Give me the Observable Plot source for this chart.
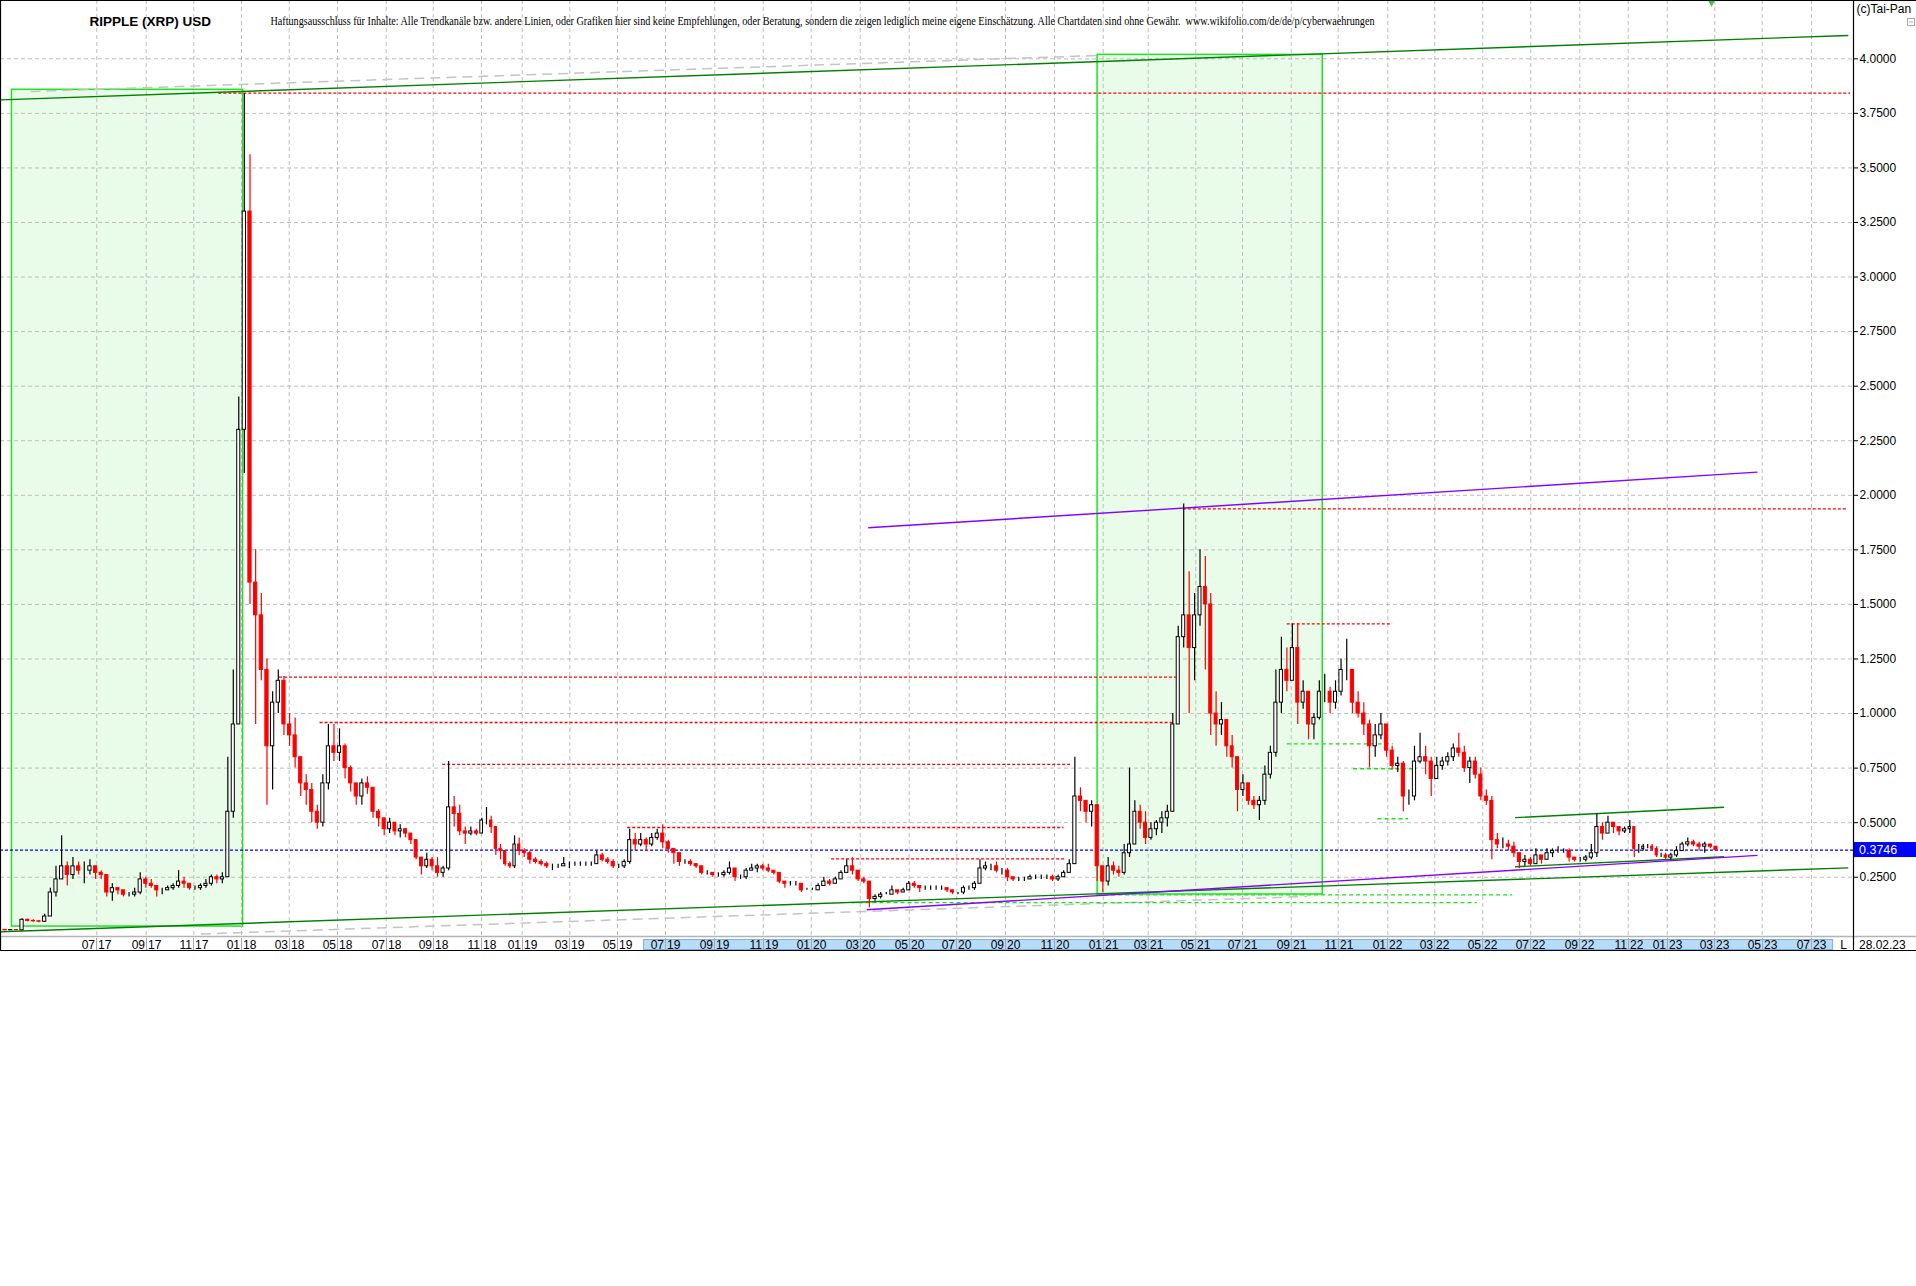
<!DOCTYPE html>
<html>
<head>
<meta charset="utf-8">
<script src="https://cdn.jsdelivr.net/npm/d3@7"></script>
<script src="https://cdn.jsdelivr.net/npm/@observablehq/plot@0.6"></script>
<style>
html, body { margin: 0; padding: 0; background: #fff; }
#chart { position: absolute; left: 0; top: 0; }
</style>
</head>
<body>
<div id="chart"></div>
<script>
// ---------------- DATA ----------------
const titleText = "RIPPLE (XRP) USD";
const disclaimer = "Haftungsausschluss für Inhalte: Alle Trendkanäle bzw. andere Linien, oder Grafiken hier sind keine Empfehlungen, oder Beratung, sondern die zeigen lediglich meine eigene Einschätzung. Alle Chartdaten sind ohne Gewähr.  www.wikifolio.com/de/de/p/cyberwaehrungen";
const copyright = "(c)Tai-Pan";
const lastDateLabel = "28.02.23";

// weekly candles (Monday starts), 2017-03-06 .. 2023-02-27
const firstOpen = 0.009;
const close = [
  // 2017
  .007,.008,.007,.055, .050,.048,.046,.070, .18,.24,.30,.26,.30, .28,.28,.30,.27, .26,.18,.20,.19,.17,
  .17,.18,.24,.22, .21,.19,.19,.20, .21,.23,.22,.20,.20, .21,.22,.25,.24, .25,.55,.95,2.30,
  // 2018
  3.30,1.60,1.45,1.20,0.85, 1.05,1.15,0.95,0.90, .80,.68,.65,.55, .50,.68,.85,.82,.85, .75,.68,.62,.68,
  .66,.55,.52,.47, .50,.46,.47,.45,.42, .34,.30,.33,.30, .27,.29,.57,.54, .46,.45,.46,.45,.51,
  .51,.48,.38,.37, .31,.30,.40,.37,.36,
  // 2019
  .33,.32,.31,.30, .30,.30,.31,.31, .31,.31,.31,.31, .35,.33,.32,.30,.30, .32,.42,.40,.42, .40,.43,.45,.41,
  .38,.36,.32,.32,.31, .30,.27,.27,.26, .26,.27,.29,.25,.25, .28,.29,.30,.29, .28,.27,.23,.22, .22,.22,.19,.19,.19,
  // 2020
  .21,.23,.22,.24, .27,.30,.28,.24, .23,.15,.16,.17,.17, .19,.18,.19,.22, .21,.20,.20,.20, .20,.20,.19,.18,.18,
  .20,.20,.22,.29, .30,.30,.28,.28,.25, .24,.24,.24,.25, .25,.25,.25,.24, .25,.27,.31,.62,.60, .55,.58,.30,.23,
  // 2021
  .30,.28,.27,.36, .40,.55,.50,.43, .47,.50,.52,.55,.95, 1.35,1.45,1.30,1.45, 1.58,1.50,1.00,.95,.97, .85,.80,.65,.68,
  .60,.58,.60,.72, .82,1.05,1.20,1.15,1.30, 1.05,1.10,.95,.98, 1.10,1.10,1.05,1.10, 1.20,1.20,1.05,1.00,.95, .85,.90,.95,.83,
  // 2022
  .76,.77,.62,.62,.78, .80,.78,.70,.76, .78,.80,.84,.82, .75,.78,.72,.62, .60,.42,.40,.40,.39, .36,.32,.33,.31,
  .35,.33,.36,.37, .37,.37,.34,.33,.33, .34,.36,.48,.45, .50,.48,.46,.47,.48, .38,.38,.39,.39, .38,.35,.35,.34,
  // 2023
  .35,.37,.40,.41,.40, .39,.40,.39,.3746
];
const high = [
  // 2017
  .009,.009,.009,.060, .058,.055,.052,.080, .20,.30,.44,.32,.34, .32,.32,.33,.30, .28,.26,.22,.20,.19,
  .18,.20,.27,.25, .24,.21,.20,.21, .22,.28,.25,.22,.21, .22,.24,.26,.26, .27,.80,1.20,2.45,
  // 2018
  3.84,3.56,1.75,1.55,1.25, 1.10,1.20,1.17,1.00, .98,.80,.72,.68, .58,.72,.95,.95,.93, .86,.76,.68,.70,
  .71,.66,.56,.52, .52,.50,.49,.47,.45, .42,.34,.36,.34, .34,.30,.78,.62, .58,.48,.48,.47,.52,
  .57,.53,.47,.40, .37,.32,.44,.43,.38,
  // 2019
  .37,.34,.33,.32, .31,.31,.34,.32, .32,.32,.32,.32, .37,.36,.34,.33,.31, .33,.47,.45,.45, .43,.45,.47,.49,
  .42,.38,.36,.33,.33, .31,.30,.28,.27, .27,.28,.32,.29,.26, .29,.31,.31,.31, .31,.28,.27,.23, .23,.23,.22,.20,.20,
  // 2020
  .22,.25,.24,.25, .28,.33,.34,.28, .25,.23,.17,.18,.18, .21,.19,.20,.23, .23,.21,.21,.21, .21,.21,.20,.19,.18,
  .21,.21,.23,.33, .32,.31,.32,.29,.29, .25,.25,.25,.26, .26,.26,.26,.26, .26,.28,.33,.80,.66, .60,.60,.58,.30,
  // 2021
  .34,.32,.30,.40, .75,.60,.58,.55, .50,.51,.55,.58,1.00, 1.40,1.96,1.65,1.55, 1.75,1.72,1.55,1.10,1.05, .95,.90,.80,.72,
  .68,.62,.62,.76, .85,1.20,1.35,1.30,1.41, 1.41,1.15,1.05,1.00, 1.15,1.18,1.12,1.15, 1.25,1.34,1.20,1.10,1.05, .97,.95,1.00,.95,
  // 2022
  .85,.80,.78,.65,.85, .91,.85,.80,.80, .80,.82,.86,.91, .85,.80,.80,.75, .65,.62,.45,.43,.42, .41,.36,.35,.34,
  .38,.35,.38,.38, .39,.38,.38,.34,.34, .35,.40,.54,.50, .53,.50,.48,.48,.51, .48,.40,.40,.40, .40,.39,.36,.36,
  // 2023
  .36,.39,.41,.43,.42, .41,.41,.40,.38
];
const low = [
  // 2017
  .005,.006,.006,.007, .045,.044,.042,.044, .07,.16,.24,.21,.24, .26,.22,.26,.24, .24,.16,.14,.17,.16,
  .16,.16,.17,.20, .20,.16,.17,.19, .19,.20,.20,.19,.19, .19,.20,.21,.22, .22,.25,.52,.95,
  // 2018
  2.10,1.50,0.95,1.15,0.58, 0.65,1.00,0.90,0.85, .75,.62,.58,.50, .47,.48,.65,.78,.78, .70,.64,.58,.58,
  .63,.52,.48,.44, .45,.44,.43,.43,.40, .33,.26,.29,.28, .25,.25,.28,.48, .44,.40,.44,.44,.45,
  .49,.45,.35,.33, .30,.29,.29,.35,.34,
  // 2019
  .31,.31,.30,.29, .28,.29,.30,.29, .30,.30,.30,.30, .31,.32,.31,.29,.29, .29,.31,.37,.39, .37,.39,.42,.38,
  .36,.31,.30,.31,.30, .29,.26,.26,.25, .25,.25,.26,.23,.24, .24,.28,.27,.28, .27,.26,.22,.20, .21,.21,.18,.19,.19,
  // 2020
  .19,.21,.21,.22, .24,.27,.26,.23, .22,.11,.14,.15,.17, .17,.17,.18,.19, .20,.18,.19,.19, .19,.19,.18,.17,.17,
  .17,.19,.19,.22, .28,.28,.27,.26,.23, .23,.23,.23,.24, .24,.24,.24,.23, .23,.25,.27,.33,.55, .50,.48,.23,.18,
  // 2021
  .21,.26,.25,.26, .34,.42,.47,.40, .42,.44,.45,.48,.55, .95,1.30,1.00,1.15, 1.40,1.20,.90,.85,.90, .80,.75,.55,.62,
  .58,.56,.51,.58, .70,.80,1.00,1.10,1.15, .95,1.02,.88,.88, .97,1.05,1.00,1.02, 1.08,1.15,1.00,.98,.90, .75,.80,.88,.80,
  // 2022
  .74,.73,.55,.58,.60, .77,.72,.62,.70, .74,.76,.78,.80, .73,.68,.70,.60, .58,.33,.38,.38,.37, .34,.29,.30,.30,
  .31,.31,.33,.34, .36,.36,.32,.32,.32, .32,.33,.34,.42, .45,.45,.44,.45,.45, .34,.36,.37,.38, .37,.34,.34,.33,
  // 2023
  .33,.34,.37,.39,.39, .37,.36,.38,.37
];
const lastPrice = 0.3746;

// price scale ticks
const yTicks = [0.25,0.5,0.75,1,1.25,1.5,1.75,2,2.25,2.5,2.75,3,3.25,3.5,3.75,4];

// month grid / date band labels
const gridMonths = [
  "2017-07-01","2017-09-01","2017-11-01","2018-01-01","2018-03-01","2018-05-01","2018-07-01","2018-09-01","2018-11-01",
  "2019-01-01","2019-03-01","2019-05-01","2019-07-01","2019-09-01","2019-11-01","2020-01-01","2020-03-01","2020-05-01",
  "2020-07-01","2020-09-01","2020-11-01","2021-01-01","2021-03-01","2021-05-01","2021-07-01","2021-09-01","2021-11-01",
  "2022-01-01","2022-03-01","2022-05-01","2022-07-01","2022-09-01","2022-11-01","2023-01-01","2023-03-01","2023-05-01","2023-07-01"
];

// shaded zones
const zoneStart = ["2017-03-18", "2020-12-25"];
const zoneEnd = ["2018-01-03", "2021-10-12"];
const zoneLow = [0.024, 0.171];
const zoneHigh = [3.858, 4.018];

// trend lines
const trendKind = ["green", "green", "gray", "gray", "purple", "purple", "green", "green"];
const trendFrom = ["2017-03-04", "2017-03-04", "2017-04-10", "2017-11-10", "2020-03-11", "2020-03-09", "2022-06-11", "2022-06-11"];
const trendTo = ["2023-08-17", "2023-08-17", "2020-12-25", "2021-09-22", "2023-04-25", "2023-04-25", "2023-03-13", "2023-03-13"];
const trendFromValue = [3.812, 0.000, 3.850, -0.010, 1.851, 0.101, 0.523, 0.298];
const trendToValue = [4.107, 0.293, 4.015, 0.162, 2.106, 0.350, 0.571, 0.344];

// red dashed resistance levels
const redLevel = [3.843, 1.938, 1.167, 0.959, 0.767, 0.478, 0.334, 1.411];
const redFrom = ["2017-12-03", "2021-04-15", "2018-02-17", "2018-04-09", "2018-09-13", "2019-05-14", "2020-01-26", "2021-08-27"];
const redTo = ["2023-08-20", "2023-08-17", "2021-04-06", "2021-04-01", "2020-11-21", "2020-11-13", "2020-11-16", "2022-01-07"];

// green dashed support levels
const greenLevel = [0.169, 0.134, 0.861, 0.747, 0.518];
const greenFrom = ["2020-12-25", "2020-02-20", "2021-08-27", "2021-11-20", "2021-12-20"];
const greenTo = ["2022-06-08", "2022-04-24", "2022-01-08", "2022-02-05", "2022-01-27"];

// date band highlighted range, last-data marker
const bandRange = ["2019-06-03", "2023-07-28"];
const markerDate = "2023-02-25";

// ---------------- BUILD ----------------
const D = s => new Date(s + "T00:00:00Z");
const weeks = d3.utcMonday.range(D("2017-03-06"), D("2023-03-01"));
if (weeks.length !== close.length || close.length !== high.length || high.length !== low.length) {
  document.body.insertAdjacentHTML("beforeend", `<pre>length mismatch ${weeks.length} ${close.length} ${high.length} ${low.length}</pre>`);
}
const candles = weeks.map((d, i) => {
  const o = i === 0 ? firstOpen : close[i - 1];
  const c = close[i];
  return {
    start: d, end: d3.utcDay.offset(d, 7), mid: d3.utcHour.offset(d, 84),
    open: o, close: c,
    high: Math.max(high[i], o, c), low: Math.min(low[i], o, c),
    up: c >= o
  };
});
const zones = zoneStart.map((s, i) => ({start: D(s), end: D(zoneEnd[i]), lo: zoneLow[i], hi: zoneHigh[i]}));
const trends = trendKind.map((k, i) => ({kind: k, x1: D(trendFrom[i]), x2: D(trendTo[i]), y1: trendFromValue[i], y2: trendToValue[i]}));
const reds = redLevel.map((v, i) => ({v, x1: D(redFrom[i]), x2: D(redTo[i])}));
const greens = greenLevel.map((v, i) => ({v, x1: D(greenFrom[i]), x2: D(greenTo[i])}));
const gridDates = gridMonths.map(D);

// x scale: piecewise time scale matching the irregular month spacing of the source chart
const xDomain = [D("2017-03-01"), ...gridDates, D("2023-09-01")];
const xRange = [-2.3, 96.3, 145.7, 193.3, 241, 288.7, 337, 385.7, 432.7, 481,
  521.7, 569.3, 617, 665, 714.3, 762.7, 810.7, 859.7, 908.7,
  956.3, 1005, 1054, 1102.7, 1147.7, 1195.3, 1242, 1290.7, 1337.7,
  1387.3, 1434.3, 1482.3, 1530.3, 1579.3, 1627.7, 1666.7, 1714.3, 1761.7, 1811, 1859.5];

const SANS = "'Liberation Sans', Arial, sans-serif";
const SERIF = "'Liberation Serif', 'Times New Roman', serif";
const fmtMonth = d3.utcFormat("%m");
const fmtYear = d3.utcFormat("%y");

function dateBand(index, scales, values, dims) {
  const x = scales.x;
  const W = dims.width, H = dims.height;
  const right = W - dims.marginRight;
  const top = H - dims.marginBottom;
  const g = d3.create("svg:g").attr("font-family", SANS).attr("font-size", 12).attr("text-anchor", "start");
  g.append("line").attr("x1", 0).attr("x2", W).attr("y1", top + 0.5).attr("y2", top + 0.5)
    .attr("stroke", "#b4b4b4").attr("stroke-width", 1.5);
  const bx1 = x(D(bandRange[0])), bx2 = x(D(bandRange[1]));
  g.append("rect").attr("x", bx1 + 0.5).attr("y", top + 3.5).attr("width", bx2 - bx1).attr("height", 10)
    .attr("fill", "#b8dbf8").attr("stroke", "#7cb1e6");
  for (const d of gridDates) {
    const px = Math.round(x(d)) + 0.5;
    g.append("line").attr("x1", px).attr("x2", px).attr("y1", top + 2).attr("y2", top + 14)
      .attr("stroke", "#a8a8a8");
    g.append("text").attr("x", px - 1.5).attr("y", top + 12.5).attr("text-anchor", "end").text(fmtMonth(d));
    g.append("text").attr("x", px + 1.5).attr("y", top + 12.5).attr("text-anchor", "start").text(fmtYear(d));
  }
  g.append("text").attr("x", (bx2 + right) / 2 + 1).attr("y", top + 12.5).attr("text-anchor", "middle").text("L");
  g.append("text").attr("x", right + 6).attr("y", top + 12.5).attr("text-anchor", "start").text(lastDateLabel);
  // frame borders
  const bl = (x1, y1, x2, y2) => g.append("line").attr("x1", x1).attr("y1", y1).attr("x2", x2).attr("y2", y2)
    .attr("stroke", "black").attr("stroke-width", 1.2);
  bl(0, 0.5, W, 0.5);
  bl(0, top + 14.5, W, top + 14.5);
  bl(0.5, 0, 0.5, top + 15);
  bl(right + 0.5, 0, right + 0.5, top + 15);
  return g.node();
}

function priceTag(index, scales, values, dims) {
  const y = scales.y(lastPrice);
  const right = dims.width - dims.marginRight;
  const g = d3.create("svg:g");
  g.append("rect").attr("x", right + 1).attr("y", y - 7.5).attr("width", dims.marginRight - 1).attr("height", 15)
    .attr("fill", "#0000ff");
  g.append("text").attr("x", right + 6).attr("y", y).attr("dy", "0.34em").attr("fill", "white")
    .attr("text-anchor", "start").attr("font-family", SANS).attr("font-size", 12.5).text(d3.format(".4f")(lastPrice));
  // small collapse box
  g.append("rect").attr("x", right + 54.5).attr("y", 18.5).attr("width", 7).attr("height", 7)
    .attr("fill", "white").attr("stroke", "#aaa");
  g.append("line").attr("x1", right + 56).attr("x2", right + 60).attr("y1", 22).attr("y2", 22).attr("stroke", "#aaa");
  return g.node();
}

const plot = Plot.plot({
  width: 1916,
  height: 952,
  marginLeft: 0,
  marginTop: 0,
  marginRight: 63,
  marginBottom: 16,
  style: {background: "white", fontFamily: SANS, fontSize: "12px", color: "black", overflow: "visible"},
  x: {type: "utc", domain: xDomain, range: xRange, axis: null},
  y: {domain: [0, 4], range: [931.3, 58.3], axis: "right", ticks: yTicks, tickFormat: d3.format(".4f"),
      tickSize: 4, tickPadding: 2, label: null},
  marks: [
    Plot.rect(zones, {x1: "start", x2: "end", y1: "lo", y2: "hi", fill: "#e9fce9", stroke: "#22e022", strokeWidth: 1.5}),
    Plot.ruleY(yTicks, {stroke: "#bdbdbd", strokeDasharray: "4,3", strokeWidth: 1}),
    Plot.ruleX(gridDates, {stroke: "#bdbdbd", strokeDasharray: "4,3", strokeWidth: 1}),
    Plot.link(trends.filter(d => d.kind === "gray"), {x1: "x1", y1: "y1", x2: "x2", y2: "y2", stroke: "#c4c4c4", strokeWidth: 1.5, strokeDasharray: "10,6"}),
    Plot.ruleY(greens, {y: "v", x1: "x1", x2: "x2", stroke: "#14e614", strokeWidth: 1.3, strokeDasharray: "4,3"}),
    Plot.ruleY(reds, {y: "v", x1: "x1", x2: "x2", stroke: "#ff0000", strokeWidth: 1.3, strokeDasharray: "3,2"}),
    Plot.link(trends.filter(d => d.kind === "green"), {x1: "x1", y1: "y1", x2: "x2", y2: "y2", stroke: "#008000", strokeWidth: 1.4}),
    Plot.link(trends.filter(d => d.kind === "purple"), {x1: "x1", y1: "y1", x2: "x2", y2: "y2", stroke: "#8a00ff", strokeWidth: 1.4}),
    Plot.ruleY([lastPrice], {stroke: "#0000ff", strokeWidth: 1.3, strokeDasharray: "3,2"}),
    Plot.ruleX(candles, {x: "mid", y1: "low", y2: "high", stroke: d => d.up ? "black" : "#ff0000", strokeWidth: 1.2}),
    Plot.rect(candles, {
      x1: "start", x2: "end",
      y1: d => Math.min(d.open, d.close), y2: d => Math.max(d.open, d.close),
      fill: d => d.up ? "white" : "#ff0000", stroke: d => d.up ? "black" : "#ff0000", strokeWidth: 1,
      insetLeft: 1.2, insetRight: 1.2
    }),
    Plot.text([titleText], {text: d => d, frameAnchor: "top-left", lineAnchor: "middle", dx: 89, dy: 21, textAnchor: "start",
      fontWeight: "bold", fontSize: 13.5, fill: "#000"}),
    Plot.text([disclaimer], {text: d => d, frameAnchor: "top-left", lineAnchor: "middle", dx: 270, dy: 21, textAnchor: "start",
      fontFamily: SERIF, fontSize: 11.5, fill: "#000"}),
    Plot.text([copyright], {text: d => d, frameAnchor: "top-right", lineAnchor: "middle", dx: 3, dy: 9, textAnchor: "start",
      fontSize: 12, fill: "#000"}),
    Plot.dot([D(markerDate)], {x: d => d, frameAnchor: "top", symbol: "triangle", rotate: 180, r: 3.3,
      fill: "#33cc33", stroke: "none", dy: 1}),
    priceTag,
    dateBand
  ]
});

d3.select(plot).selectAll("text").filter(function() { return this.textContent === disclaimer; })
  .attr("textLength", 1104).attr("lengthAdjust", "spacingAndGlyphs");

document.getElementById("chart").append(plot);
</script>
</body>
</html>
